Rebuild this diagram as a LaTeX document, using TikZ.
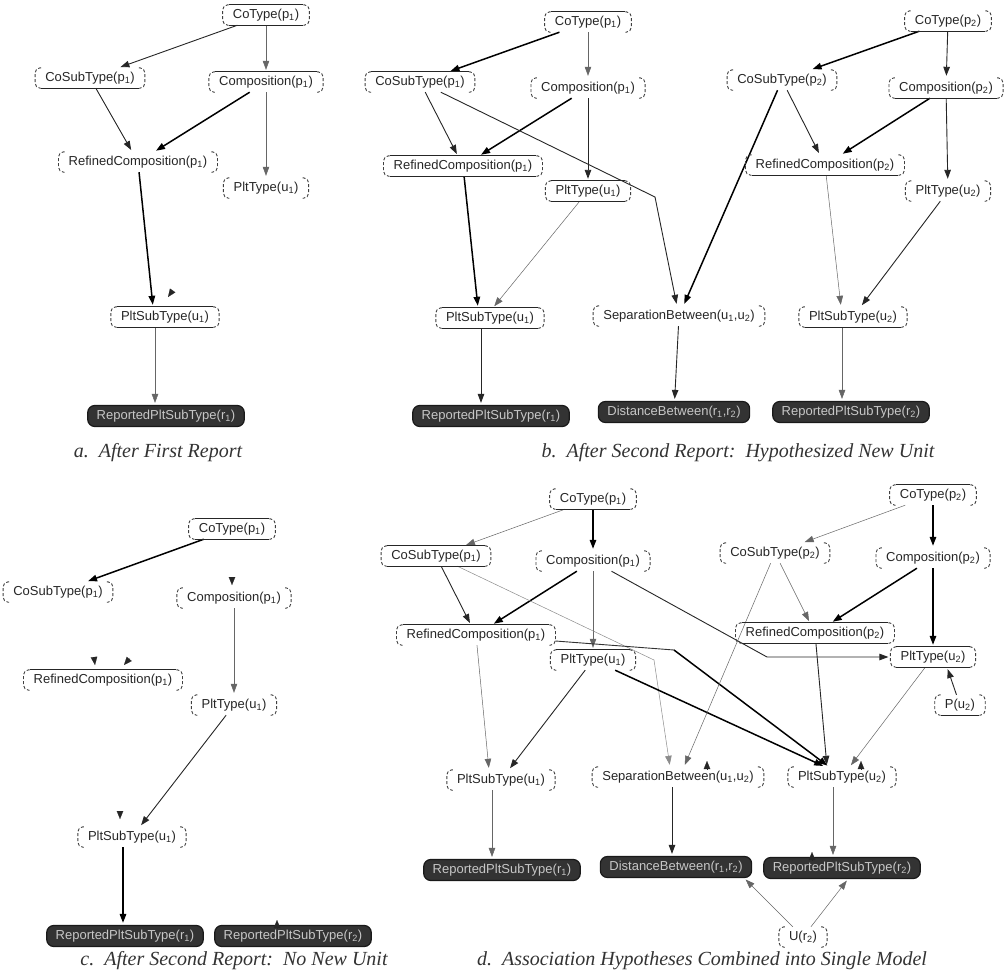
\documentclass[tikz,border=0pt]{standalone}
\usepackage{fontspec}
\newfontfamily\nodefont{Liberation Sans}
\newfontfamily\capfont{Liberation Serif}
\usetikzlibrary{arrows.meta,calc}
\newcommand\sbs[1]{\textsubscript{#1}}
\tikzset{
  hn/.style={font=\nodefont\fontsize{13}{15}\selectfont, text=black!85, inner xsep=10pt, inner ysep=0pt, minimum height=20pt},
  dk/.style={font=\nodefont\fontsize{13}{15}\selectfont, text=black!22, fill=black!80, draw=black!90, line width=1.2pt, rounded corners=7pt, inner xsep=9pt, inner ysep=0pt, minimum height=21pt},
  captxt/.style={font=\capfont\itshape\fontsize{20}{24}\selectfont, text=black!80, inner sep=0pt},
  tip/.style={-{Triangle[length=9pt,width=6.5pt]}, shorten >=2pt},
  ethin/.style={tip, line width=0.5pt, draw=black!60},
  elight/.style={tip, line width=0.5pt, draw=black!45},
  emed/.style={tip, line width=0.9pt, draw=black!85},
  ethick/.style={tip, line width=1.5pt, draw=black},
  stray/.style={-{Triangle[length=8pt,width=6.5pt]}, line width=0.1pt, draw=black!85},
  brk/.style={dash pattern=on 3pt off 2pt, line width=0.9pt, draw=black!75, rounded corners=5pt},
  hl/.style={line width=1.3pt, draw=black!85},
}
\newcommand\brkt[1]{%
  \draw[brk] ([xshift=6pt]#1.north west) -- (#1.north west) -- (#1.south west) -- ([xshift=6pt]#1.south west);
  \draw[brk] ([xshift=-6pt]#1.north east) -- (#1.north east) -- (#1.south east) -- ([xshift=-6pt]#1.south east);}
\newcommand\tline[1]{\draw[hl] ([xshift=6pt]#1.north west) -- ([xshift=-6pt]#1.north east);}
\newcommand\bline[1]{\draw[hl] ([xshift=6pt]#1.south west) -- ([xshift=-6pt]#1.south east);}
\begin{document}
\begin{tikzpicture}[x=1pt,y=-1pt]
\fill[white] (0,0) rectangle (1005,972);
\useasboundingbox (0,0) rectangle (1005,972);

% ---------------- panel a ----------------
\node[hn] (aCT) at (266,15) {CoType(p\sbs{1})};
\node[hn] (aCS) at (90,78) {CoSubType(p\sbs{1})};
\node[hn] (aCo) at (266,82) {Composition(p\sbs{1})};
\node[hn] (aRC) at (138,162) {RefinedComposition(p\sbs{1})};
\node[hn] (aPT) at (266,188) {PltType(u\sbs{1})};
\node[hn] (aPS) at (165,317) {PltSubType(u\sbs{1})};
\node[dk] (aR1) at (166,416) {ReportedPltSubType(r\sbs{1})};

\draw[emed] (aCT) -- (aCS);
\draw[ethin] (aCT) -- (aCo);
\draw[emed] (aCS) -- (aRC);
\draw[ethick] (aCo) -- (aRC);
\draw[ethin] (aCo) -- (aPT);
\draw[ethick] (aRC) -- ([xshift=-12pt]aPS.north);
\draw[ethin] ([xshift=-10pt]aPS.south) -- ([xshift=-11pt]aR1.north);
\coordinate (sa1) at (173,290); \coordinate (sa1e) at (168,297);
\draw[stray] (sa1) -- (sa1e);

% ---------------- panel b ----------------
\node[hn] (bCT1) at (588,22) {CoType(p\sbs{1})};
\node[hn] (bCT2) at (948,21) {CoType(p\sbs{2})};
\node[hn] (bCS1) at (420,82) {CoSubType(p\sbs{1})};
\node[hn] (bCo1) at (588,88) {Composition(p\sbs{1})};
\node[hn] (bCS2) at (782,80) {CoSubType(p\sbs{2})};
\node[hn] (bCo2) at (946,88) {Composition(p\sbs{2})};
\node[hn] (bRC1) at (463,166) {RefinedComposition(p\sbs{1})};
\node[hn] (bPT1) at (588,191) {PltType(u\sbs{1})};
\node[hn] (bRC2) at (825,165) {RefinedComposition(p\sbs{2})};
\node[hn] (bPT2) at (948,191) {PltType(u\sbs{2})};
\node[hn] (bPS1) at (490,318) {PltSubType(u\sbs{1})};
\node[hn] (bSB) at (679,316) {SeparationBetween(u\sbs{1},u\sbs{2})};
\node[hn] (bPS2) at (853,317) {PltSubType(u\sbs{2})};
\node[dk] (bR1) at (491,416) {ReportedPltSubType(r\sbs{1})};
\node[dk] (bD) at (674,412) {DistanceBetween(r\sbs{1},r\sbs{2})};
\node[dk] (bR2) at (851,412) {ReportedPltSubType(r\sbs{2})};

\draw[ethick] (bCT1) -- (bCS1);
\draw[ethin] (bCT1) -- (bCo1);
\draw[emed] (bCS1) -- (bRC1);
\draw[ethick] (bCo1) -- (bRC1);
\draw[emed] (bCo1) -- (bPT1);
\coordinate (bk1) at (655,197);
\draw[emed] (bCS1) -- (bk1) -- (bSB);
\draw[ethick] (bCS2) -- (bSB);
\draw[ethin] (bPT1) -- ([xshift=3pt]bPS1.north);
\draw[ethick] (bRC1) -- ([xshift=-12pt]bPS1.north);
\draw[emed] ([xshift=-9pt]bPS1.south) -- ([xshift=-10pt]bR1.north);
\draw[emed] (bSB) -- (bD);
\draw[ethick] (bCT2) -- (bCS2);
\draw[emed] (bCT2) -- (bCo2);
\draw[emed] (bCS2) -- (bRC2);
\draw[ethick] (bCo2) -- (bRC2);
\draw[emed] (bCo2) -- (bPT2);
\draw[ethin] (bRC2) -- ([xshift=-12pt]bPS2.north);
\draw[emed] (bPT2) -- (bPS2);
\draw[ethin] ([xshift=-11pt]bPS2.south) -- ([xshift=-9pt]bR2.north);

% ---------------- panel c ----------------
\node[hn] (cCT) at (232,529) {CoType(p\sbs{1})};
\node[hn] (cCS) at (58,592) {CoSubType(p\sbs{1})};
\node[hn] (cCo) at (234,598) {Composition(p\sbs{1})};
\node[hn] (cRC) at (103,680) {RefinedComposition(p\sbs{1})};
\node[hn] (cPT) at (234,705) {PltType(u\sbs{1})};
\node[hn] (cPS) at (132,837) {PltSubType(u\sbs{1})};
\node[dk] (cR1) at (125,936) {ReportedPltSubType(r\sbs{1})};
\node[dk] (cR2) at (293,936) {ReportedPltSubType(r\sbs{2})};

\draw[ethick] (cCT) -- (cCS);
\draw[ethin] (cCo) -- (cPT);
\draw[emed] (cPT) -- (cPS);
\draw[ethick] ([xshift=-9pt]cPS.south) -- ([xshift=-2pt]cR1.north);
\coordinate (sc1) at (232,577); \coordinate (sc1e) at (232,585);
\draw[stray] (sc1) -- (sc1e);
\coordinate (sc2) at (94,657); \coordinate (sc2e) at (95,665);
\draw[stray] (sc2) -- (sc2e);
\coordinate (sc3) at (130,658); \coordinate (sc3e) at (124,665);
\draw[stray] (sc3) -- (sc3e);
\coordinate (sc4) at (120,811); \coordinate (sc4e) at (120,819);
\draw[stray] (sc4) -- (sc4e);
\coordinate (sc5) at (277,928); \coordinate (sc5e) at (277,920);
\draw[stray] (sc5) -- (sc5e);

% ---------------- panel d ----------------
\node[hn] (dCT1) at (593,499) {CoType(p\sbs{1})};
\node[hn] (dCT2) at (933,495) {CoType(p\sbs{2})};
\node[hn] (dCS1) at (436,556) {CoSubType(p\sbs{1})};
\node[hn] (dCo1) at (593,561) {Composition(p\sbs{1})};
\node[hn] (dCS2) at (775,553) {CoSubType(p\sbs{2})};
\node[hn] (dCo2) at (933,558) {Composition(p\sbs{2})};
\node[hn] (dRC1) at (476,635) {RefinedComposition(p\sbs{1})};
\node[hn] (dRC2) at (815,633) {RefinedComposition(p\sbs{2})};
\node[hn] (dPT1) at (593,660) {PltType(u\sbs{1})};
\node[hn] (dPT2) at (933,657) {PltType(u\sbs{2})};
\node[hn] (dPu) at (960,705) {P(u\sbs{2})};
\node[hn] (dPS1) at (501,780) {PltSubType(u\sbs{1})};
\node[hn] (dSB) at (678,777) {SeparationBetween(u\sbs{1},u\sbs{2})};
\node[hn] (dPS2) at (842,777) {PltSubType(u\sbs{2})};
\node[dk] (dR1) at (502,870) {ReportedPltSubType(r\sbs{1})};
\node[dk] (dD) at (676,867) {DistanceBetween(r\sbs{1},r\sbs{2})};
\node[dk] (dR2) at (842,868) {ReportedPltSubType(r\sbs{2})};
\node[hn] (dU) at (803,937) {U(r\sbs{2})};

\draw[ethin] (dCT1) -- (dCS1);
\draw[ethick] (dCT1) -- (dCo1);
\draw[emed] (dCS1) -- (dRC1);
\draw[ethick] (dCo1) -- (dRC1);
\draw[ethin] (dCo1) -- (dPT1);
\coordinate (dk1) at (767,657);
\draw[emed] (dCo1) -- (dk1) -- (dPT2);
\coordinate (dk2) at (654,660);
\draw[elight] (dCS1) -- (dk2) -- ([xshift=-8pt]dSB.north);
\coordinate (dk3) at (674,650);
\draw[line width=0.9pt, draw=black!80] (dRC1) -- (dk3);
\draw[ethick] (dk3) -- ([xshift=-13pt]dPS2.north);
\draw[emed] (dPT1) -- (dPS1);
\draw[ethin] (dRC1) -- ([xshift=-12pt]dPS1.north);
\draw[ethick] (dPT1) -- ([xshift=-17pt]dPS2.north);
\draw[ethin] (dCS2) -- ([xshift=6pt]dSB.north);
\draw[ethin] (dCS2) -- (dRC2);
\draw[ethick] (dCo2) -- (dRC2);
\draw[ethick] (dCo2) -- (dPT2);
\draw[ethin] (dCT2) -- (dCS2);
\draw[ethick] (dCT2) -- (dCo2);
\draw[emed] (dRC2) -- ([xshift=-15pt]dPS2.north);
\draw[ethin] (dPT2) -- (dPS2);
\draw[emed] (dPu) -- ([xshift=14pt]dPT2.south);
\draw[emed] ([xshift=-6pt]dSB.south) -- ([xshift=-4pt]dD.north);
\draw[ethin] ([xshift=-9pt]dPS1.south) -- ([xshift=-10pt]dR1.north);
\draw[ethin] ([xshift=-9pt]dPS2.south) -- ([xshift=-9pt]dR2.north);
\draw[ethin] (dU) -- ([xshift=-8pt]dD.south east);
\draw[ethin] (dU) -- ([xshift=6pt]dR2.south);
\coordinate (sd1) at (707,769); \coordinate (sd1e) at (707,761);
\draw[stray] (sd1) -- (sd1e);
\coordinate (sd2) at (861,769); \coordinate (sd2e) at (861,761);
\draw[stray] (sd2) -- (sd2e);
\coordinate (sd3) at (812,860); \coordinate (sd3e) at (812,852);
\draw[stray] (sd3) -- (sd3e);

% ---------------- node outlines ----------------
\foreach \n in {aCT,aCS,aCo,aRC,aPT,aPS,bCT1,bCT2,bCS1,bCo1,bCS2,bCo2,bRC1,bPT1,bRC2,bPT2,bPS1,bSB,bPS2,cCT,cCS,cCo,cRC,cPT,cPS,dCT1,dCT2,dCS1,dCo1,dCS2,dCo2,dRC1,dRC2,dPT1,dPT2,dPu,dPS1,dSB,dPS2,dU}{\brkt{\n}}
\foreach \n in {aCT,aCo,aPS,bCT1,bCS1,bRC1,bPT1,bPS1,cCT,cRC,dCT2,dCS1,dRC1,dRC2,dPT1,dPT2}{\tline{\n}}
\foreach \n in {aCT,aCS,aPS,bCT2,bCo2,bRC1,bPT1,bRC2,bPS1,bPS2,cCT,dCT1,dCS1,dRC2,dPT2,dPu}{\bline{\n}}

% ---------------- captions ----------------
\node[captxt] (capa) at (158,453) {a.\ \ After First Report};
\node[captxt] (capb) at (738,453) {b.\ \ After Second Report:\ \ Hypothesized New Unit};
\node[captxt,anchor=base] (capc) at (234,965) {c.\ \ After Second Report:\ \ No New Unit};
\node[captxt,anchor=base] (capd) at (702,965) {d.\ \ Association Hypotheses Combined into Single Model};
\end{tikzpicture}
\end{document}
